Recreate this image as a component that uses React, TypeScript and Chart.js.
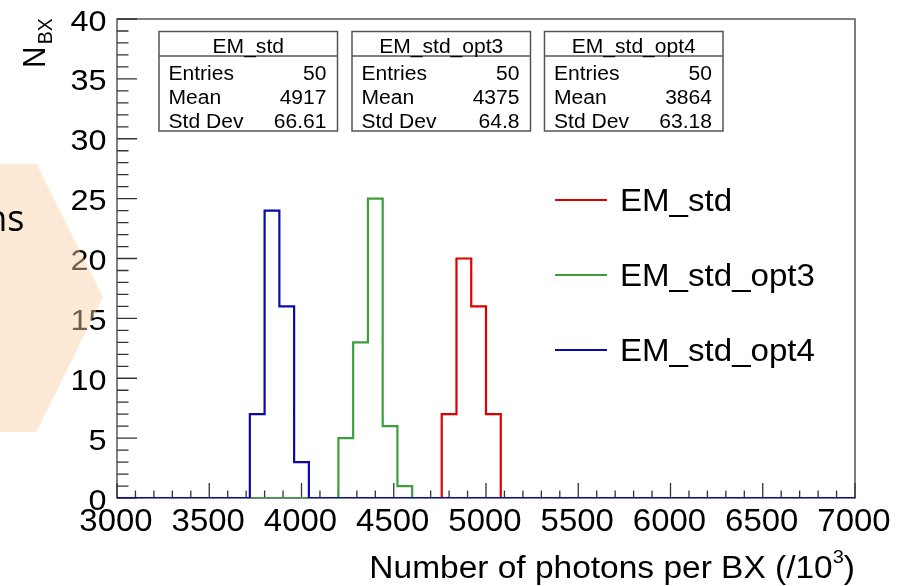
import React, { useEffect, useRef } from 'react';
import { Chart, registerables } from 'chart.js';

Chart.register(...registerables);

// ---- data ----
const X_MIN = 3000;
const X_MAX = 7000;
const BIN_WIDTH = 80;
const Y_MIN = 0;
const Y_MAX = 40;

const seriesNames = ['EM_std', 'EM_std_opt3', 'EM_std_opt4'];
const seriesColors = ['#e00000', '#3c9f3c', '#0b0bab'];

const emStdFirstBin = 4760;
const emStdCounts = [7, 20, 16, 7];
const emStdOpt3FirstBin = 4200;
const emStdOpt3Counts = [5, 13, 25, 6, 1];
const emStdOpt4FirstBin = 3720;
const emStdOpt4Counts = [7, 24, 16, 3];

const statEntries = ['50', '50', '50'];
const statMeans = ['4917', '4375', '3864'];
const statStdDevs = ['66.61', '64.8', '63.18'];

const xMajorStep = 500;
const xMinorStep = 100;
const yMajorStep = 5;
const yMinorStep = 1;

const xTitleMain = 'Number of photons per BX (/10';
const xTitleSup = '3';
const xTitleEnd = ')';
const yTitleMain = 'N';
const yTitleSub = 'BX';
const slideText = 'ns';

function histPoints(first: number, counts: number[]) {
  const nBins = Math.round((X_MAX - X_MIN) / BIN_WIDTH);
  const pts: { x: number; y: number }[] = [];
  for (let i = 0; i < nBins; i++) {
    const x = X_MIN + i * BIN_WIDTH;
    const k = Math.round((x - first) / BIN_WIDTH);
    const c = k >= 0 && k < counts.length ? counts[k] : 0;
    pts.push({ x, y: c });
  }
  pts.push({ x: X_MAX, y: 0 });
  return pts;
}

const SX = 1.08;
const FONT = '"Liberation Sans", Arial, Helvetica, sans-serif';

function drawText(
  ctx: CanvasRenderingContext2D,
  s: string,
  x: number,
  y: number,
  size: number,
  align: CanvasTextAlign = 'left',
  color = '#000',
  sx = SX,
  family = FONT
) {
  ctx.save();
  ctx.translate(x, y);
  ctx.scale(sx, 1);
  ctx.font = `${size}px ${family}`;
  ctx.textAlign = align;
  ctx.textBaseline = 'alphabetic';
  ctx.fillStyle = color;
  ctx.fillText(s, 0, 0);
  ctx.restore();
}

function textWidth(ctx: CanvasRenderingContext2D, s: string, size: number, sx = SX) {
  ctx.save();
  ctx.font = `${size}px ${FONT}`;
  const w = ctx.measureText(s).width * sx;
  ctx.restore();
  return w;
}

const rootPlugin = {
  id: 'rootStyle',
  beforeDatasetsDraw(chart: any) {
    const ctx: CanvasRenderingContext2D = chart.ctx;
    const { left, right, top, bottom } = chart.chartArea;
    const xs = chart.scales.x;
    const ys = chart.scales.y;
    ctx.save();
    // frame
    ctx.strokeStyle = '#555';
    ctx.lineWidth = 1.5;
    ctx.strokeRect(left, top, right - left, bottom - top);
    // ticks
    ctx.strokeStyle = '#333';
    ctx.lineWidth = 1.3;
    ctx.beginPath();
    for (const t of xs.ticks) {
      const v = t.value;
      const px = xs.getPixelForValue(v);
      const major = Math.abs(v / xMajorStep - Math.round(v / xMajorStep)) < 1e-6;
      const len = major ? 15 : 7.5;
      ctx.moveTo(px, bottom);
      ctx.lineTo(px, bottom - len);
    }
    for (const t of ys.ticks) {
      const v = t.value;
      const py = ys.getPixelForValue(v);
      const major = Math.abs(v / yMajorStep - Math.round(v / yMajorStep)) < 1e-6;
      const len = major ? 20 : 11.5;
      ctx.moveTo(left, py);
      ctx.lineTo(left + len, py);
    }
    ctx.stroke();
    ctx.restore();
  },
  afterDraw(chart: any) {
    const ctx: CanvasRenderingContext2D = chart.ctx;
    const { left, right, bottom } = chart.chartArea;
    const xs = chart.scales.x;
    const ys = chart.scales.y;
    ctx.save();
    // tick labels
    for (const t of xs.ticks) {
      const v = t.value;
      if (Math.abs(v / xMajorStep - Math.round(v / xMajorStep)) > 1e-6) continue;
      drawText(ctx, String(Math.round(v)), xs.getPixelForValue(v) - 1, bottom + 32.5, 30.5, 'center');
    }
    for (const t of ys.ticks) {
      const v = t.value;
      if (Math.abs(v / yMajorStep - Math.round(v / yMajorStep)) > 1e-6) continue;
      drawText(ctx, String(Math.round(v)), left - 10.5, ys.getPixelForValue(v) + 11.5, 30, 'right');
    }
    // x title
    const wMain = textWidth(ctx, xTitleMain, 31);
    const wSup = textWidth(ctx, xTitleSup, 18.5);
    const wEnd = textWidth(ctx, xTitleEnd, 31);
    const xStart = right - (wMain + wSup + wEnd);
    drawText(ctx, xTitleMain, xStart, 578, 31);
    drawText(ctx, xTitleSup, xStart + wMain, 563, 18.5);
    drawText(ctx, xTitleEnd, xStart + wMain + wSup, 578, 31);
    // y title (rotated)
    ctx.save();
    ctx.translate(45, 68);
    ctx.rotate(-Math.PI / 2);
    ctx.scale(1, SX);
    ctx.font = `29.5px ${FONT}`;
    ctx.fillStyle = '#000';
    ctx.textAlign = 'left';
    ctx.fillText(yTitleMain, 0, 0);
    const nW = ctx.measureText(yTitleMain).width;
    ctx.font = `19.5px ${FONT}`;
    ctx.fillText(yTitleSub, nW + 2.5, 6.5 / SX);
    ctx.restore();

    // stats boxes
    const boxLefts = [159, 352, 544.5];
    const boxW = 178.5;
    const boxTop = 31.5;
    const boxBottom = 131;
    const sepY = 56;
    for (let i = 0; i < 3; i++) {
      const bl = boxLefts[i];
      const br = bl + boxW;
      ctx.fillStyle = '#fff';
      ctx.fillRect(bl, boxTop, boxW, boxBottom - boxTop);
      ctx.strokeStyle = '#555';
      ctx.lineWidth = 1.5;
      ctx.strokeRect(bl, boxTop, boxW, boxBottom - boxTop);
      ctx.beginPath();
      ctx.moveTo(bl, sepY);
      ctx.lineTo(br, sepY);
      ctx.stroke();
      drawText(ctx, seriesNames[i], (bl + br) / 2, 52.5, 19.5, 'center');
      const rows = [
        ['Entries', statEntries[i]],
        ['Mean', statMeans[i]],
        ['Std Dev', statStdDevs[i]],
      ];
      const baselines = [79.5, 104, 128];
      rows.forEach((r, j) => {
        drawText(ctx, r[0], bl + 9.5, baselines[j], 19.5, 'left');
        drawText(ctx, r[1], br - 11, baselines[j], 19.5, 'right');
      });
    }

    // legend
    const legY = [200, 275, 350];
    for (let i = 0; i < 3; i++) {
      ctx.strokeStyle = seriesColors[i];
      ctx.lineWidth = 2;
      ctx.beginPath();
      ctx.moveTo(555, legY[i]);
      ctx.lineTo(607, legY[i]);
      ctx.stroke();
      drawText(ctx, seriesNames[i], 620, legY[i] + 10.5, 31.5, 'left', '#000', 1.05);
    }

    // slide overlay (chevron)
    ctx.fillStyle = 'rgba(249, 209, 163, 0.45)';
    ctx.beginPath();
    ctx.moveTo(0, 164);
    ctx.lineTo(36.5, 164);
    ctx.lineTo(103, 297);
    ctx.lineTo(36.5, 432);
    ctx.lineTo(0, 432);
    ctx.closePath();
    ctx.fill();
    drawText(ctx, slideText, 24.5, 230.5, 36, 'right', '#000', 1, '"Open Sans", sans-serif');
    ctx.restore();
  },
};

export default function App() {
  const ref = useRef<HTMLCanvasElement>(null);
  useEffect(() => {
    document.body.style.margin = '0';
    const canvas = ref.current;
    if (!canvas) return;
    const firsts = [emStdFirstBin, emStdOpt3FirstBin, emStdOpt4FirstBin];
    const counts = [emStdCounts, emStdOpt3Counts, emStdOpt4Counts];
    const chart = new Chart(canvas, {
      type: 'line',
      data: {
        datasets: seriesNames.map((name, i) => ({
          label: name,
          data: histPoints(firsts[i], counts[i]),
          borderColor: seriesColors[i],
          backgroundColor: seriesColors[i],
          borderWidth: 2.2,
          pointRadius: 0,
          stepped: 'before' as const,
          fill: false,
          order: 3 - i,
        })),
      },
      options: {
        animation: false,
        responsive: false,
        devicePixelRatio: 1,
        layout: { padding: { left: 117, right: 58, top: 19, bottom: 88 } },
        plugins: {
          legend: { display: false },
          tooltip: { enabled: false },
        },
        scales: {
          x: {
            type: 'linear',
            min: X_MIN,
            max: X_MAX,
            ticks: { display: false, stepSize: xMinorStep },
            grid: { display: false, drawTicks: false },
            border: { display: false },
          },
          y: {
            type: 'linear',
            min: Y_MIN,
            max: Y_MAX,
            ticks: { display: false, stepSize: yMinorStep },
            grid: { display: false, drawTicks: false },
            border: { display: false },
          },
        },
      },
      plugins: [rootPlugin],
    } as any);
    return () => chart.destroy();
  }, []);
  return (
    <div style={{ position: 'absolute', left: 0, top: 0, width: 913, height: 586, background: '#fff' }}>
      <canvas ref={ref} width={913} height={586} style={{ display: 'block' }} />
    </div>
  );
}
